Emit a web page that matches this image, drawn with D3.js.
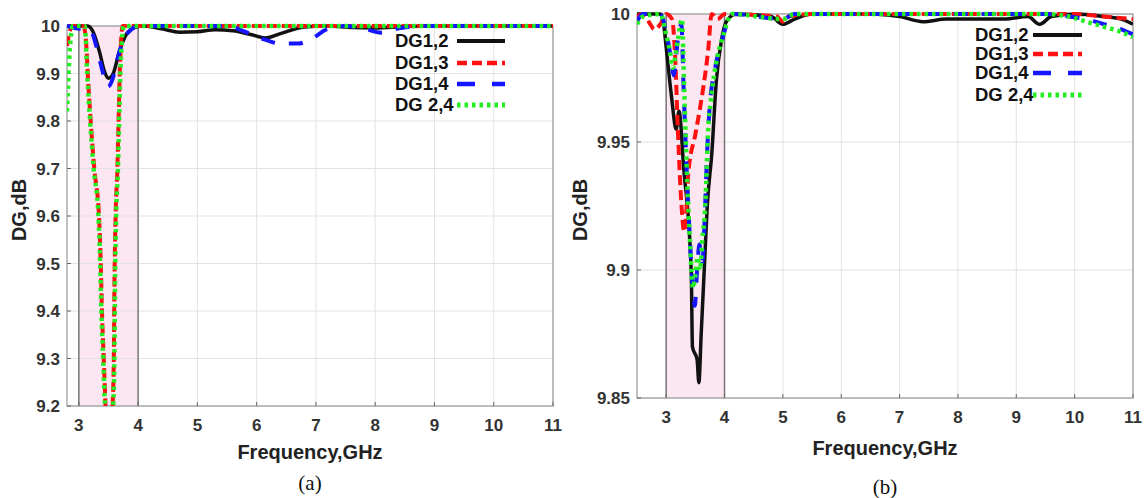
<!DOCTYPE html>
<html>
<head>
<meta charset="utf-8">
<script src="https://cdn.jsdelivr.net/npm/d3@7"></script>
<style>
  body { margin: 0; background: #fff; }
  svg { display: block; font-family: "Liberation Sans", Arial, sans-serif; }
  .tick-label { font-size: 17px; font-weight: bold; fill: #333; }
  .axis-title { font-size: 20px; font-weight: bold; fill: #222; }
  .legend-text { font-size: 18.5px; font-weight: bold; fill: #111; }
  .caption { font-family: "Liberation Serif", "Times New Roman", serif; font-size: 21px; fill: #111; }
</style>
</head>
<body>
<svg id="chart" width="1145" height="498"></svg>
<script>
// DATA

const seriesNames = ["DG1,2", "DG1,3", "DG1,4", "DG 2,4"];

// panel (a): [frequency GHz, DG dB]
const a12 = [[2.8,10],[3.0,10],[3.15,10],[3.25,9.985],[3.35,9.945],[3.43,9.905],[3.5,9.89],[3.58,9.9],[3.68,9.945],[3.8,9.982],[3.95,9.997],[4.1,10],[4.4,9.994],[4.7,9.987],[5.0,9.988],[5.3,9.992],[5.6,9.99],[5.9,9.982],[6.15,9.975],[6.4,9.984],[6.8,9.998],[7.2,10],[7.6,9.997],[8.0,9.996],[8.5,9.999],[9.0,10],[11,10]];
const a13 = [[2.8,9.958],[2.85,9.99],[2.9,10],[3.08,10],[3.13,9.95],[3.15,9.9],[3.2,9.8],[3.26,9.7],[3.34,9.6],[3.37,9.5],[3.39,9.4],[3.42,9.3],[3.45,9.2],[3.51,9.05],[3.57,9.2],[3.59,9.3],[3.6,9.45],[3.62,9.6],[3.65,9.7],[3.67,9.8],[3.69,9.9],[3.74,10],[11,10]];
const a14 = [[2.8,10],[2.95,9.995],[3.1,9.993],[3.2,9.99],[3.3,9.955],[3.4,9.905],[3.49,9.872],[3.56,9.885],[3.65,9.93],[3.75,9.97],[3.88,9.992],[4.0,10],[5.5,10],[5.8,9.988],[6.1,9.973],[6.4,9.963],[6.7,9.963],[6.95,9.975],[7.2,9.994],[7.5,10],[7.8,9.995],[8.1,9.986],[8.4,9.995],[8.8,10],[11,10]];
const a24 = [[2.8,9.82],[2.84,9.935],[2.9,10],[3.1,10],[3.14,9.9],[3.19,9.8],[3.25,9.7],[3.33,9.6],[3.36,9.5],[3.38,9.4],[3.41,9.3],[3.44,9.2],[3.5,9.05],[3.58,9.2],[3.6,9.3],[3.61,9.45],[3.63,9.6],[3.66,9.7],[3.68,9.8],[3.7,9.9],[3.76,10],[11,10]];

// panel (b)
const b12 = [[2.5,10],[2.9,10],[2.95,9.997],[3.0,9.987],[3.06,9.974],[3.1,9.966],[3.17,9.955],[3.22,9.962],[3.3,9.94],[3.43,9.899],[3.45,9.87],[3.53,9.865],[3.56,9.856],[3.6,9.875],[3.65,9.899],[3.71,9.927],[3.78,9.945],[3.86,9.974],[3.95,9.99],[4.03,9.997],[4.2,10],[4.8,9.999],[5.0,9.996],[5.2,9.998],[5.5,10],[6.5,10],[7.0,9.999],[7.4,9.997],[7.8,9.998],[8.2,9.998],[8.8,9.998],[9.2,9.999],[9.4,9.996],[9.6,9.999],[10.0,10],[10.5,9.999],[10.8,9.998],[11,9.996]];
const b13 = [[2.5,9.999],[2.6,10],[2.7,9.997],[2.8,9.994],[2.9,9.996],[3.0,10],[3.1,9.998],[3.15,9.985],[3.2,9.955],[3.25,9.93],[3.31,9.915],[3.35,9.925],[3.38,9.938],[3.5,9.953],[3.6,9.966],[3.72,9.986],[3.78,10],[3.88,9.998],[4.0,10],[4.9,9.999],[5.0,9.997],[5.1,9.999],[5.5,10],[9.0,10],[10.0,10],[10.5,9.999],[11,9.998]];
const b14 = [[2.5,9.997],[2.6,10],[2.9,10],[3.0,9.993],[3.08,9.983],[3.13,9.976],[3.2,9.99],[3.26,9.996],[3.3,9.97],[3.35,9.94],[3.4,9.915],[3.45,9.895],[3.49,9.886],[3.53,9.9],[3.57,9.91],[3.62,9.903],[3.66,9.92],[3.7,9.945],[3.74,9.962],[3.84,9.979],[3.96,9.99],[4.13,10],[5.0,9.998],[5.2,10],[9.5,10],[9.9,9.999],[10.2,9.998],[10.5,9.996],[10.8,9.994],[11,9.992]];
const b24 = [[2.5,9.996],[2.6,9.999],[2.9,10],[3.0,9.992],[3.06,9.986],[3.11,9.979],[3.2,9.99],[3.27,9.998],[3.31,9.97],[3.36,9.935],[3.41,9.91],[3.46,9.893],[3.5,9.898],[3.54,9.905],[3.58,9.9],[3.62,9.912],[3.67,9.925],[3.72,9.955],[3.76,9.965],[3.85,9.98],[3.97,9.991],[4.13,10],[5.0,9.998],[5.2,10],[9.5,10],[9.9,9.999],[10.2,9.997],[10.5,9.995],[10.8,9.993],[11,9.991]];

const xTicks = [3, 4, 5, 6, 7, 8, 9, 10, 11];
const yTicksA = [9.2, 9.3, 9.4, 9.5, 9.6, 9.7, 9.8, 9.9, 10];
const yTicksB = [9.85, 9.9, 9.95, 10];
const band = [3, 4];

// line styles, one per series
const styles = [
  { color: "#111", width: 3.5, dash: null },
  { color: "#ff1010", width: 4, dash: "10,5" },
  { color: "#1515ff", width: 4, dash: "14,14" },
  { color: "#22ee22", width: 4.5, dash: "3.5,4" }
];

const svg = d3.select("#chart");

function drawPanel(p) {
  const x = d3.scaleLinear().domain(p.xDomain).range([p.left, p.right]);
  const y = d3.scaleLinear().domain(p.yDomain).range([p.bottom, p.top]);
  const g = svg.append("g");

  g.append("clipPath").attr("id", p.id + "-clip")
    .append("rect")
    .attr("x", p.left).attr("y", p.top - 3)
    .attr("width", p.right - p.left).attr("height", p.bottom - p.top + 3);

  // shaded band 3-4 GHz
  g.append("rect")
    .attr("x", x(band[0])).attr("y", p.top)
    .attr("width", x(band[1]) - x(band[0])).attr("height", p.bottom - p.top)
    .attr("fill", "#fce6f1");

  // grid
  g.selectAll(".vgrid").data(xTicks).enter().append("line")
    .attr("x1", d => x(d)).attr("x2", d => x(d))
    .attr("y1", p.top).attr("y2", p.bottom)
    .attr("stroke", "#e2e2e2").attr("stroke-width", 1);
  g.selectAll(".hgrid").data(p.yTicks).enter().append("line")
    .attr("x1", p.left).attr("x2", p.right)
    .attr("y1", d => y(d)).attr("y2", d => y(d))
    .attr("stroke", "#e2e2e2").attr("stroke-width", 1);

  // band borders
  g.selectAll(".bandline").data(band).enter().append("line")
    .attr("x1", d => x(d)).attr("x2", d => x(d))
    .attr("y1", p.top).attr("y2", p.bottom)
    .attr("stroke", "#777").attr("stroke-width", 1.5);

  // frame
  g.append("rect")
    .attr("x", p.left).attr("y", p.top)
    .attr("width", p.right - p.left).attr("height", p.bottom - p.top)
    .attr("fill", "none").attr("stroke", "#999").attr("stroke-width", 1.2);

  // inward ticks
  g.selectAll(".xtick").data(xTicks).enter().append("line")
    .attr("x1", d => x(d)).attr("x2", d => x(d))
    .attr("y1", p.bottom).attr("y2", p.bottom - 4)
    .attr("stroke", "#666");
  g.selectAll(".ytick").data(p.yTicks).enter().append("line")
    .attr("x1", p.left).attr("x2", p.left + 4)
    .attr("y1", d => y(d)).attr("y2", d => y(d))
    .attr("stroke", "#666");

  // tick labels
  g.selectAll(".xlab").data(xTicks).enter().append("text")
    .attr("class", "tick-label")
    .attr("x", d => x(d)).attr("y", p.bottom + 25)
    .attr("text-anchor", "middle")
    .text(d => d);
  g.selectAll(".ylab").data(p.yTicks).enter().append("text")
    .attr("class", "tick-label")
    .attr("x", p.left - 7).attr("y", d => y(d) + 6)
    .attr("text-anchor", "end")
    .text(d => d);

  // curves
  const line = d3.line()
    .x(d => x(d[0])).y(d => y(d[1]))
    .curve(d3.curveMonotoneX);
  const lines = g.append("g").attr("clip-path", `url(#${p.id}-clip)`);
  p.series.forEach((s, i) => {
    lines.append("path")
      .datum(s)
      .attr("d", line)
      .attr("fill", "none")
      .attr("stroke", styles[i].color)
      .attr("stroke-width", styles[i].width)
      .attr("stroke-dasharray", styles[i].dash)
      .attr("stroke-linejoin", "round");
  });

  // legend
  const leg = g.append("g");
  seriesNames.forEach((name, i) => {
    const ly = p.legendRows[i];
    leg.append("text").attr("class", "legend-text")
      .attr("x", p.legendX).attr("y", ly + 6).text(name);
    leg.append("line")
      .attr("x1", p.legendLine[0]).attr("x2", p.legendLine[1])
      .attr("y1", ly).attr("y2", ly)
      .attr("stroke", styles[i].color)
      .attr("stroke-width", styles[i].width + 0.5)
      .attr("stroke-dasharray", i == 2 ? "18,17" : styles[i].dash);
  });

  // axis titles and caption
  g.append("text").attr("class", "axis-title")
    .attr("x", p.xTitle[0]).attr("y", p.xTitle[1])
    .attr("text-anchor", "middle").text("Frequency,GHz");
  g.append("text").attr("class", "axis-title")
    .attr("transform", `translate(${p.yTitle[0]},${p.yTitle[1]}) rotate(-90)`)
    .attr("text-anchor", "middle").text("DG,dB");
  g.append("text").attr("class", "caption")
    .attr("x", p.caption[0]).attr("y", p.caption[1])
    .attr("text-anchor", "middle").text(p.label);
}

drawPanel({
  id: "pa", label: "(a)",
  left: 67, right: 553, top: 26, bottom: 406,
  xDomain: [2.8, 11], yDomain: [9.2, 10], yTicks: yTicksA,
  series: [a12, a13, a14, a24],
  legendX: 395, legendLine: [457, 505], legendRows: [41, 63, 84, 105],
  xTitle: [310, 459], yTitle: [26, 210], caption: [310, 490]
});

drawPanel({
  id: "pb", label: "(b)",
  left: 637, right: 1133, top: 14, bottom: 398,
  xDomain: [2.5, 11], yDomain: [9.85, 10], yTicks: yTicksB,
  series: [b12, b13, b14, b24],
  legendX: 975, legendLine: [1033, 1082], legendRows: [35, 54, 73, 95],
  xTitle: [885, 455], yTitle: [587, 210], caption: [885, 494]
});
</script>
</body>
</html>
